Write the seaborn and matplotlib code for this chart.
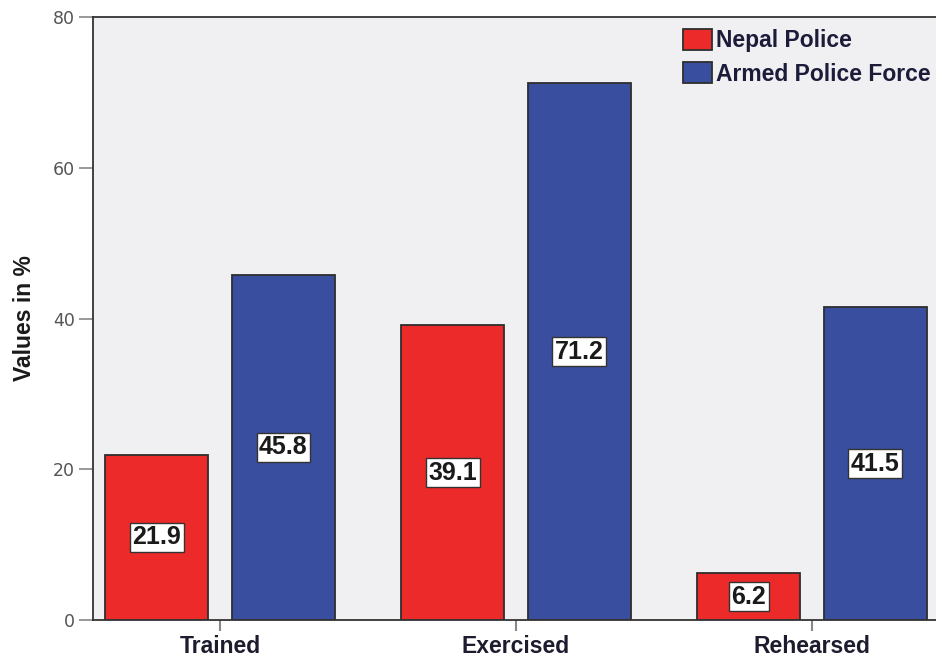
import matplotlib
matplotlib.use("Agg")
import matplotlib.pyplot as plt
import seaborn as sns
import pandas as pd

categories = ["Trained", "Exercised", "Rehearsed"]
series_names = ["Nepal Police", "Armed Police Force"]
nepal_police = [21.9, 39.1, 6.2]
armed_police = [45.8, 71.2, 41.5]
y_ticks = [0, 20, 40, 60, 80]

df = pd.DataFrame({
    "category": categories * 2,
    "force": [series_names[0]] * 3 + [series_names[1]] * 3,
    "value": nepal_police + armed_police,
})

sns.set_theme(style="white")
plt.rcParams["font.family"] = ["Liberation Sans", "DejaVu Sans"]

fig = plt.figure(figsize=(9.37, 6.59), dpi=100)
ax = fig.add_axes([93 / 937, 39 / 659, 846 / 937, 603 / 659])
ax.set_facecolor("#f0f0f2")

palette = {series_names[0]: "#ec2a2a", series_names[1]: "#3a4e9f"}
sns.barplot(data=df, x="category", y="value", hue="force", order=categories,
            hue_order=series_names, palette=palette, width=0.856, gap=0.19,
            edgecolor="#2e2e2e", linewidth=1.3, saturation=1, ax=ax)

# value labels centred inside each bar
for container in ax.containers:
    for bar in container:
        h = bar.get_height()
        ax.text(bar.get_x() + bar.get_width() / 2, h / 2, f"{h:.1f}",
                ha="center", va="center", fontsize=18, fontweight="bold",
                color="#1a1a1a",
                bbox=dict(boxstyle="square,pad=0.1", facecolor="white",
                          edgecolor="#333333", linewidth=1.0))

ax.set_xlim(-0.429, 2.429)
ax.set_ylim(0, 80)
ax.set_yticks(y_ticks)
ax.set_yticklabels([str(t) for t in y_ticks], fontsize=12.5, color="#555555",
                   family="DejaVu Sans")
ax.set_xticks(range(len(categories)))
ax.set_xticklabels(categories, fontsize=16.5, fontweight="bold", color="#1c1c2e")
ax.tick_params(axis="y", direction="out", length=10, width=1.2, color="#888888", pad=3, left=True)
ax.tick_params(axis="x", direction="out", length=8, width=1.5, color="#888888", pad=2.5, bottom=True)

ax.set_xlabel("")
ax.set_ylabel("Values in %", fontsize=16.5, fontweight="bold", color="#1a1a1a", labelpad=12)

for side in ["left", "bottom", "top"]:
    ax.spines[side].set_visible(True)
    ax.spines[side].set_color("#333333")
    ax.spines[side].set_linewidth(1.3)
ax.spines["right"].set_visible(False)

leg = ax.legend(loc="upper left", bbox_to_anchor=((683 - 93) / 846, (620 - 29) / 603),
                frameon=False, fontsize=16.5, handlelength=1.25, handleheight=1.05,
                handletextpad=0.2, labelspacing=0.42, borderaxespad=0, borderpad=0)
for t in leg.get_texts():
    t.set_fontweight("bold")
    t.set_color("#1c1c3a")

fig.savefig("out.png", dpi=100, facecolor="white")
